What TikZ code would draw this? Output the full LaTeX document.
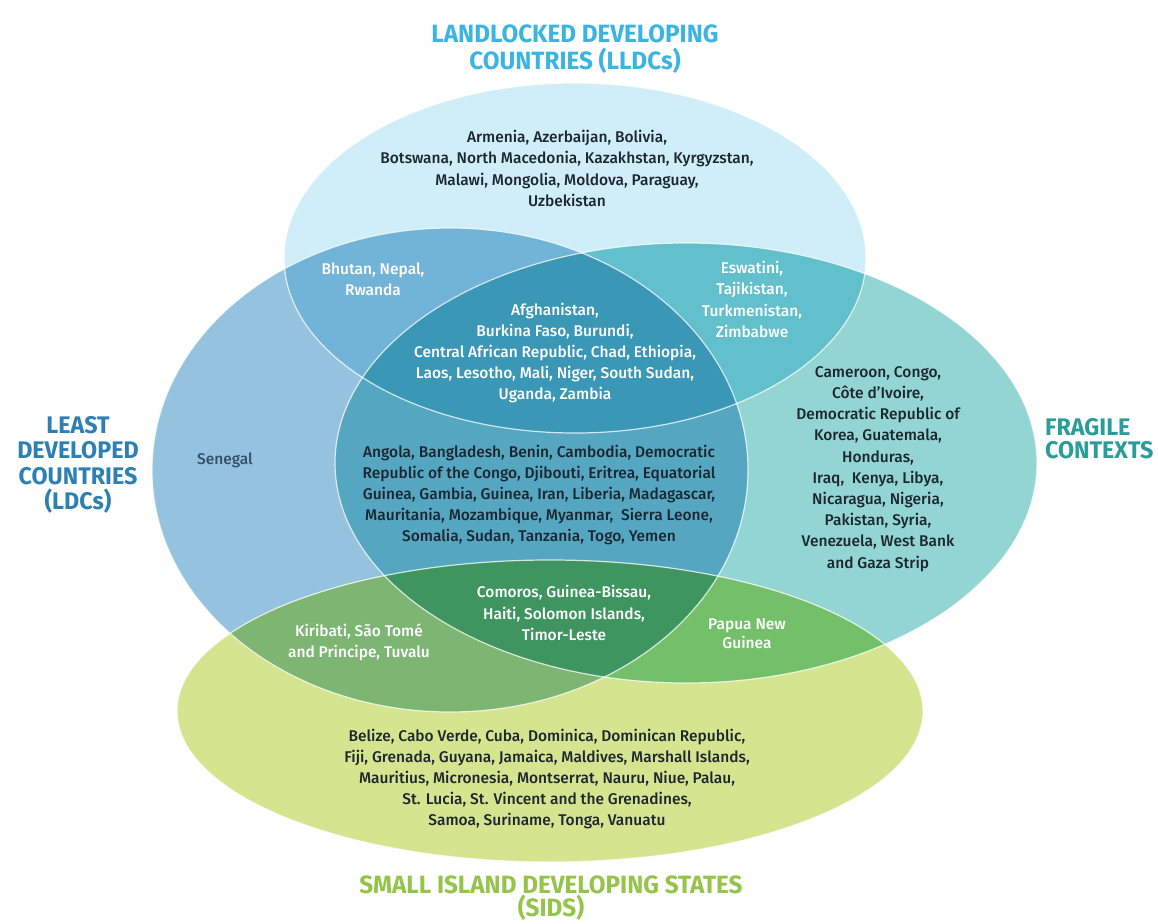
\documentclass[tikz,border=0pt]{standalone}
\usepackage{fontspec}
\setmainfont{Fira Sans}
\newfontfamily\bodyfont{Fira Sans Medium}
\newfontfamily\headfont{Fira Sans}[FakeStretch=0.97]

% region colours
\definecolor{cA}{HTML}{CFEEF8}    % LLDC only
\definecolor{cB}{HTML}{94C2DF}    % LDC only
\definecolor{cC}{HTML}{92D5D2}    % fragile only
\definecolor{cD}{HTML}{D5E48E}    % SIDS only
\definecolor{cAB}{HTML}{72B3D8}
\definecolor{cAC}{HTML}{62BFCC}
\definecolor{cBC}{HTML}{55A7C1}
\definecolor{cABC}{HTML}{3B97B6}
\definecolor{cBD}{HTML}{7DB673}
\definecolor{cCD}{HTML}{74C06A}
\definecolor{cBCD}{HTML}{3E9560}
% text colours
\definecolor{ink}{HTML}{1C2630}
\definecolor{senegalink}{HTML}{34506A}
\definecolor{lldcHead}{HTML}{3AB4E0}
\definecolor{ldcHead}{HTML}{2C80B4}
\definecolor{fragHead}{HTML}{2A9D98}
\definecolor{sidsHead}{HTML}{95C44A}

% the four sets
\newcommand\lldcShape{(575,258) ellipse [x radius=291pt, y radius=175pt]}
\newcommand\ldcShape{(450,470) ellipse [x radius=298pt, y radius=242pt]}
\newcommand\fragShape{(686,463) ellipse [x radius=351pt, y radius=220pt]}
\newcommand\sidsShape{(550,711) ellipse [x radius=373pt, y radius=151pt]}

\tikzset{
  body/.style={font=\bodyfont\fontsize{15.5}{21.2}\selectfont, align=center, text=ink, inner sep=0pt},
  light/.style={body, text=white},
  head/.style={font=\headfont\bfseries\fontsize{25}{26}\selectfont, align=center, inner sep=0pt},
  edge/.style={draw=white, draw opacity=0.75, line width=1.2pt}
}

\begin{document}
\begin{tikzpicture}[x=1pt, y=-1pt]
\useasboundingbox (0,0) rectangle (1158,923);
\fill[white] (0,0) rectangle (1158,923);

% single sets
\fill[cA] \lldcShape;
\fill[cB] \ldcShape;
\fill[cC] \fragShape;
\fill[cD] \sidsShape;

% pairwise overlaps
\begin{scope}\clip \lldcShape; \fill[cAB] \ldcShape; \end{scope}
\begin{scope}\clip \lldcShape; \fill[cAC] \fragShape; \end{scope}
\begin{scope}\clip \ldcShape; \fill[cBC] \fragShape; \end{scope}
\begin{scope}\clip \ldcShape; \fill[cBD] \sidsShape; \end{scope}
\begin{scope}\clip \fragShape; \fill[cCD] \sidsShape; \end{scope}

% triple overlaps
\begin{scope}\clip \lldcShape; \clip \ldcShape; \fill[cABC] \fragShape; \end{scope}
\begin{scope}\clip \ldcShape; \clip \fragShape; \fill[cBCD] \sidsShape; \end{scope}

% outlines
\draw[edge] \lldcShape;
\draw[edge] \ldcShape;
\draw[edge] \fragShape;
\draw[edge] \sidsShape;

% set titles
\node[head, text=lldcHead, font=\headfont\bfseries\fontsize{25}{27}\selectfont] (lldcTitle) at (575,49)
  {LANDLOCKED DEVELOPING\\COUNTRIES (LLDCs)};
\node[head, text=ldcHead, font=\headfont\bfseries\fontsize{24}{25.5}\selectfont] (ldcTitle) at (78,465)
  {LEAST\\DEVELOPED\\COUNTRIES\\(LDCs)};
\node[head, text=fragHead, align=left, anchor=west, font=\headfont\bfseries\fontsize{24}{23}\selectfont] (fragTitle) at (1045,439)
  {FRAGILE\\CONTEXTS};
\node[head, text=sidsHead, font=\headfont\bfseries\fontsize{25}{23}\selectfont] (sidsTitle) at (551,898)
  {SMALL ISLAND DEVELOPING STATES\\(SIDS)};

% members
\node[body] (lldcList) at (567,168.5)
  {Armenia, Azerbaijan, Bolivia,\\
   Botswana, North Macedonia, Kazakhstan, Kyrgyzstan,\\
   Malawi, Mongolia, Moldova, Paraguay,\\
   Uzbekistan};
\node[light] (lldcLdc) at (373,279) {Bhutan, Nepal,\\Rwanda};
\node[light] (lldcFrag) at (752,299.5) {Eswatini,\\Tajikistan,\\Turkmenistan,\\Zimbabwe};
\node[light] (lldcLdcFrag) at (555,353)
  {Afghanistan,\\
   Burkina Faso, Burundi,\\
   Central African Republic, Chad, Ethiopia,\\
   Laos, Lesotho, Mali, Niger, South Sudan,\\
   Uganda, Zambia};
\node[body, text=senegalink] (ldcList) at (225,460) {Senegal};
\node[body] (ldcFrag) at (539,495)
  {Angola, Bangladesh, Benin, Cambodia, Democratic\\
   Republic of the Congo, Djibouti, Eritrea, Equatorial\\
   Guinea, Gambia, Guinea, Iran, Liberia, Madagascar,\\
   Mauritania, Mozambique, Myanmar,\ \ Sierra Leone,\\
   Somalia, Sudan, Tanzania, Togo, Yemen};
\node[body] (fragList) at (878,469)
  {Cameroon, Congo,\\
   Côte d’Ivoire,\\
   Democratic Republic of\\
   Korea, Guatemala,\\
   Honduras,\\
   Iraq,\ \ Kenya, Libya,\\
   Nicaragua, Nigeria,\\
   Pakistan, Syria,\\
   Venezuela, West Bank\\
   and Gaza Strip};
\node[light] (ldcFragSids) at (564,613)
  {Comoros, Guinea-Bissau,\\Haiti, Solomon Islands,\\Timor-Leste};
\node[light] (ldcSids) at (359,642) {Kiribati, São Tomé\\and Principe, Tuvalu};
\node[light, font=\bodyfont\fontsize{15.5}{18.5}\selectfont] (fragSids) at (747,634) {Papua New\\Guinea};
\node[body] (sidsList) at (547,779)
  {Belize, Cabo Verde, Cuba, Dominica, Dominican Republic,\\
   Fiji, Grenada, Guyana, Jamaica, Maldives, Marshall Islands,\\
   Mauritius, Micronesia, Montserrat, Nauru, Niue, Palau,\\
   St. Lucia, St. Vincent and the Grenadines,\\
   Samoa, Suriname, Tonga, Vanuatu};
\end{tikzpicture}
\end{document}
